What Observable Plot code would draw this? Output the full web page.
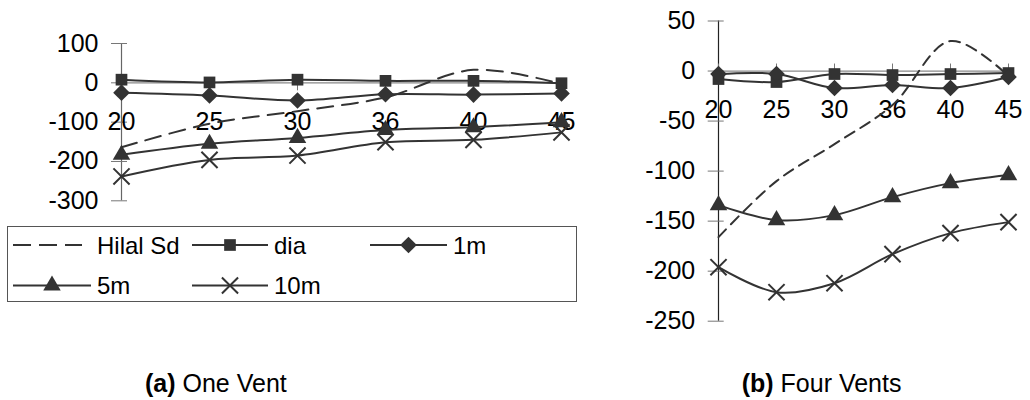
<!DOCTYPE html>
<html>
<head>
<meta charset="utf-8">
<script src="https://cdn.jsdelivr.net/npm/d3@7"></script>
<script src="https://cdn.jsdelivr.net/npm/@observablehq/plot@0.6"></script>
<style>
  body { margin: 0; background: #fff; }
  #root { position: relative; width: 1030px; height: 400px; overflow: hidden;
          font-family: "Liberation Sans", Arial, sans-serif; }
  #root svg { position: absolute; }
</style>
</head>
<body>
<div id="root"></div>
<script>
// ---------- data ----------
const categories = ["20", "25", "30", "36", "40", "45"];
const seriesNames = ["Hilal Sd", "dia", "1m", "5m", "10m"];

// (a) One Vent
const oneHilal = [-164, -104, -72, -37, 33, -3];
const oneDia   = [8, 1, 8, 5, 5, -1];
const one1m    = [-25, -32, -45, -29, -30, -27];
const one5m    = [-183, -155, -140, -120, -113, -100];
const one10m   = [-238, -196, -185, -151, -145, -126];
const oneTicks = [100, 0, -100, -200, -300];

// (b) Four Vents
const fourHilal = [-166, -110, -73, -34, 30, -5];
const fourDia   = [-8, -11, -3, -4, -3, -2];
const four1m    = [-3, -3, -17, -14, -17, -6];
const four5m    = [-134, -149, -144, -126, -112, -104];
const four10m   = [-196, -221, -212, -183, -162, -151];
const fourTicks = [50, 0, -50, -100, -150, -200, -250];

const captions = [
  {tag: "(a)", text: "One Vent"},
  {tag: "(b)", text: "Four Vents"}
];

// ---------- styling ----------
const ink = "#333";
const symbolOf = {"dia": "square", "1m": "diamond2", "5m": "triangle", "10m": "times"};
const radiusOf = {"dia": 6.6, "1m": 7.5, "5m": 6.5, "10m": 7.4};
const font = '"Liberation Sans", Arial, sans-serif';
const plainNum = d => `${d}`;

function table(values) {
  return seriesNames.flatMap((s, i) =>
    categories.map((c, j) => ({series: s, cat: c, value: values[i][j]})));
}

function panel({values, yDomain, yTicks, width, height, marginLeft, marginRight, marginTop, marginBottom, xTickDir, dash, vColor}) {
  const data = table(values);
  const frameBottom = height - marginBottom;
  const y0 = marginTop + (yDomain[1] - 0) / (yDomain[1] - yDomain[0]) * (frameBottom - marginTop);
  const marks = [
    Plot.ruleY([0], {stroke: "#888", strokeWidth: 1.3}),
    Plot.ruleX([categories[0]], {stroke: vColor, strokeWidth: 1.2}),
    Plot.axisY({ticks: yTicks, tickSize: 16, dx: 8, fill: "none", stroke: "#777", label: null}),
    Plot.axisY({ticks: yTicks, tickFormat: plainNum, tickSize: 0, tickPadding: 21, stroke: "none", fill: "#000", fontSize: 25, label: null}),
    xTickDir === "down"
      ? Plot.axisX({anchor: "bottom", tickSize: 8, dy: y0 - frameBottom, fill: "none", stroke: "#777", label: null})
      : Plot.axisX({anchor: "top", tickSize: 8, dy: y0 - marginTop, fill: "none", stroke: "#777", label: null}),
    Plot.axisX({anchor: "bottom", tickSize: 0, tickPadding: 29.4, dy: y0 - frameBottom, stroke: "none", fill: "#000", fontSize: 25, label: null})
  ];
  for (const s of seriesNames) {
    const d = data.filter(r => r.series === s);
    marks.push(Plot.line(d, {
      x: "cat", y: "value", stroke: ink, strokeWidth: 2, curve: "catmull-rom",
      strokeDasharray: s === "Hilal Sd" ? dash : null
    }));
    if (symbolOf[s]) {
      const isTimes = symbolOf[s] === "times";
      marks.push(Plot.dot(d, {
        x: "cat", y: "value", symbol: symbolOf[s], r: radiusOf[s],
        fill: isTimes ? "none" : ink, stroke: ink, strokeWidth: isTimes ? 2 : 0
      }));
    }
  }
  return Plot.plot({
    width, height, marginLeft, marginRight, marginTop, marginBottom,
    x: {type: "point", domain: categories, padding: 0},
    y: {domain: yDomain},
    style: {fontFamily: font, fontSize: "25px", color: "#000", background: "transparent", overflow: "visible"},
    marks
  });
}

const root = document.getElementById("root");

const left = panel({
  values: [oneHilal, oneDia, one1m, one5m, one10m],
  yDomain: [-300, 100], yTicks: oneTicks,
  width: 580, height: 215, marginLeft: 119, marginRight: 17, marginTop: 43, marginBottom: 14.7,
  xTickDir: "down", dash: "16,9", vColor: "#666"
});
left.style.left = "0px"; left.style.top = "0px";
root.appendChild(left);

const right = panel({
  values: [fourHilal, fourDia, four1m, four5m, four10m],
  yDomain: [-250, 50], yTicks: fourTicks,
  width: 450, height: 345, marginLeft: 135.7, marginRight: 20.7, marginTop: 20.5, marginBottom: 24.3,
  xTickDir: "up", dash: "11,7", vColor: "#222"
});
right.style.left = "580px"; right.style.top = "0px";
root.appendChild(right);

// ---------- legend + captions ----------
const over = d3.select(root).append("svg")
  .attr("width", 1030).attr("height", 400)
  .style("left", "0px").style("top", "0px")
  .style("font-family", font);

over.append("rect").attr("x", 7.5).attr("y", 226.5).attr("width", 569).attr("height", 75)
  .attr("fill", "none").attr("stroke", "#555").attr("stroke-width", 1);

const legendLayout = [
  {x0: 13, x1: 82, tx: 97, ly: 245, by: 254},
  {x0: 192, x1: 268, tx: 274, ly: 245, by: 254},
  {x0: 370, x1: 447, tx: 453, ly: 245, by: 254},
  {x0: 13, x1: 91, tx: 97, ly: 285.5, by: 294},
  {x0: 192, x1: 268, tx: 274, ly: 285.5, by: 294}
];
const d3sym = {square: d3.symbolSquare, diamond2: d3.symbolDiamond2, triangle: d3.symbolTriangle, times: d3.symbolTimes};

seriesNames.forEach((s, i) => {
  const L = legendLayout[i];
  over.append("line").attr("x1", L.x0).attr("x2", L.x1).attr("y1", L.ly).attr("y2", L.ly)
    .attr("stroke", ink).attr("stroke-width", 2)
    .attr("stroke-dasharray", s === "Hilal Sd" ? "18,8" : null);
  if (symbolOf[s]) {
    const r = radiusOf[s];
    const isTimes = symbolOf[s] === "times";
    over.append("path")
      .attr("d", d3.symbol(d3sym[symbolOf[s]], Math.PI * r * r)())
      .attr("transform", `translate(${(L.x0 + L.x1) / 2},${L.ly})`)
      .attr("fill", isTimes ? "none" : ink)
      .attr("stroke", isTimes ? ink : "none").attr("stroke-width", 2);
  }
  over.append("text").attr("x", L.tx).attr("y", L.by).attr("font-size", 24).attr("fill", "#000").text(s);
});

const capX = [145, 741.7];
captions.forEach((c, i) => {
  const t = over.append("text").attr("x", capX[i]).attr("y", 391.5).attr("font-size", 25).attr("fill", "#000");
  t.append("tspan").attr("font-weight", "bold").text(c.tag);
  t.append("tspan").text(" " + c.text);
});
</script>
</body>
</html>
